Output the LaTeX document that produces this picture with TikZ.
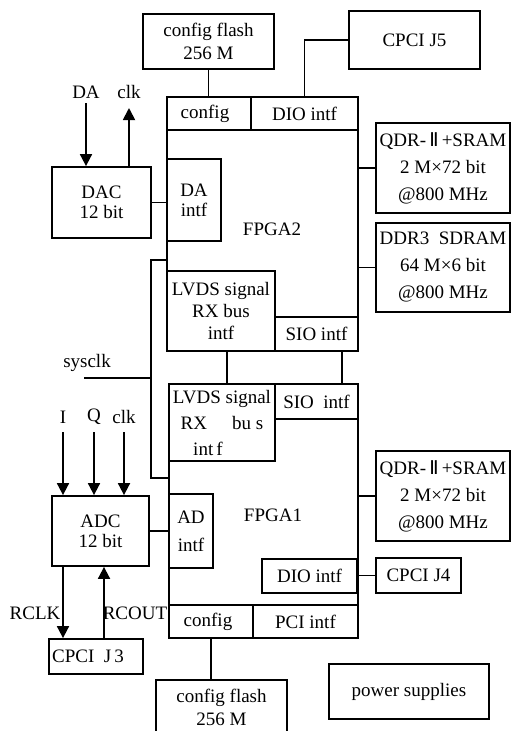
\documentclass[tikz,border=0pt]{standalone}
\usepackage{fontspec}
\setmainfont{Liberation Serif}
\newfontfamily\romfont{DejaVu Sans}
\usetikzlibrary{positioning,arrows.meta}

\begin{document}
\begin{tikzpicture}[
        x=1pt, y=-1pt,
        box/.style={draw, line width=1.8pt, inner sep=0pt, align=center, font=\fontsize{19}{23}\selectfont},
        chip/.style={draw, line width=1.8pt, inner sep=0pt},
        lbl/.style={inner sep=0pt, font=\fontsize{19}{23}\selectfont},
        wire/.style={line width=1.8pt},
        sig/.style={-{Triangle[length=12pt,width=12pt]}, line width=1.8pt}
    ]
    \useasboundingbox (0,0) rectangle (511,731);

    % FPGA2 and its interfaces
    \node[chip, minimum width=191pt, minimum height=254pt] (fpga2) at (262.5, 224) {};
    \node[lbl] (fpga2lbl) at (272, 229) {FPGA2};
    \node[box, minimum width=84pt, minimum height=33pt] (cfg2) at (209, 113.5) {\mbox{config\hspace{8pt}}};
    \node[box, minimum width=107pt, minimum height=33pt] (dio2) at (304.5, 113.5) {DIO intf};
    \node[box, minimum width=54pt, minimum height=82pt, font=\fontsize{19}{20}\selectfont] (daif) at (194, 200) {DA\\intf};
    \node[box, minimum width=108pt, minimum height=80pt, font=\fontsize{19}{22}\selectfont] (lvds2) at (221, 311) {LVDS signal\\RX bus\\intf};
    \node[box, minimum width=83pt, minimum height=34pt] (sio2) at (316.5, 334) {SIO intf};

    % FPGA1 and its interfaces
    \node[chip, minimum width=189pt, minimum height=254pt] (fpga1) at (263.5, 511) {};
    \node[lbl] (fpga1lbl) at (273, 515) {FPGA1};
    \node[box, minimum width=106pt, minimum height=77pt, font=\fontsize{19}{26}\selectfont] (lvds1) at (222, 422.5) {LVDS signal\\RX\hspace{25pt}bu s\\\mbox{int\,f\hspace{28pt}}};
    \node[box, minimum width=83pt, minimum height=35pt] (sio1) at (316.5, 401.5) {SIO\ \ intf};
    \node[box, minimum width=44pt, minimum height=74pt, font=\fontsize{19}{28}\selectfont] (adif) at (191, 531) {AD\\intf};
    \node[box, minimum width=95pt, minimum height=34pt] (dio1) at (309.5, 576) {DIO intf};
    \node[box, minimum width=84pt, minimum height=33pt] (cfg1) at (211, 621.5) {\mbox{config\hspace{6pt}}};
    \node[box, minimum width=105pt, minimum height=33pt] (pci1) at (305.5, 621.5) {PCI intf};

    % outside parts
    \node[box, minimum width=131pt, minimum height=55pt] (flash2) at (208.5, 41.5) {config flash\\256 M};
    \node[box, minimum width=131pt, minimum height=58pt] (j5) at (414.5, 40) {CPCI J5};
    \node[box, minimum width=99pt, minimum height=71pt, font=\fontsize{19}{20}\selectfont] (dac) at (101.5, 202.5) {DAC\\12 bit};
    \node[box, minimum width=134pt, minimum height=90pt, font=\fontsize{19}{27}\selectfont] (qdr2) at (443, 168) {QDR-\,{\romfont Ⅱ}\,+SRAM\\2 M×72 bit\\@800 MHz};
    \node[box, minimum width=134pt, minimum height=89pt, font=\fontsize{19}{27}\selectfont] (ddr3) at (443, 267.5) {DDR3\ \ SDRAM\\64 M×6 bit\\@800 MHz};
    \node[box, minimum width=134pt, minimum height=90pt, font=\fontsize{19}{27}\selectfont] (qdr1) at (443, 496) {QDR-\,{\romfont Ⅱ}\,+SRAM\\2 M×72 bit\\@800 MHz};
    \node[box, minimum width=85pt, minimum height=35pt] (j4) at (418.5, 575.5) {CPCI J4};
    \node[box, minimum width=97pt, minimum height=70pt, font=\fontsize{19}{20}\selectfont] (adc) at (100.5, 531) {ADC\\12 bit};
    \node[box, minimum width=94pt, minimum height=35pt] (j3) at (96, 656.5) {\mbox{CPCI\ \ J\,3\hspace{16pt}}};
    \node[box, minimum width=131pt, minimum height=55pt] (flash1) at (221.5, 707.5) {config flash\\256 M};
    \node[box, minimum width=160pt, minimum height=55pt] (power) at (409, 691.5) {power supplies};

    % signal names
    \node[lbl] (dalbl) at (86, 92) {DA};
    \node[lbl] (clkalbl) at (129, 92) {clk};
    \node[lbl] (sysclklbl) at (87, 363) {sysclk};
    \node[lbl] (ilbl) at (63, 417) {I};
    \node[lbl] (qlbl) at (94, 417) {Q};
    \node[lbl] (clkblbl) at (124, 417) {clk};
    \node[lbl] (rclklbl) at (35, 613) {RCLK};
    \node[lbl] (rcoutlbl) at (135, 613) {RCOUT};

    % connections
    \draw[wire] (flash2.south) -- (flash2.south |- fpga2.north);
    \draw[wire] (j5.west) -| (dio2.north);
    \draw[sig] ([yshift=-11pt]dalbl.center) -- (dalbl |- dac.north);
    \draw[sig] (clkalbl |- dac.north) -- ([yshift=-16pt]clkalbl.center);
    \draw[wire] (dac.east) -- (dac.east -| daif.west);
    \draw[wire] (qdr2.west) -- (qdr2.west -| fpga2.east);
    \draw[wire] (ddr3.west) -- (ddr3.west -| fpga2.east);
    \draw[wire] ([xshift=6pt]lvds2.south) -- ([xshift=6pt]lvds2.south |- lvds1.north);
    \draw[wire] ([xshift=25.5pt]sio2.south) -- ([xshift=25.5pt]sio2.south |- sio1.north);

    % sysclk bus
    \coordinate (busT) at (151, 260);
    \coordinate (busB) at (151, 478);
    \coordinate (clkin) at (84, 378);
    \draw[wire] (busT -| fpga2.west) -- (busT) -- (busB) -- (busB -| fpga1.west);
    \draw[wire] (clkin) -- (clkin -| busT);

    \draw[sig] ([yshift=-15pt]ilbl.center) -- (ilbl |- adc.north);
    \draw[sig] ([yshift=-15pt]qlbl.center) -- (qlbl |- adc.north);
    \draw[sig] ([yshift=-15pt]clkblbl.center) -- (clkblbl |- adc.north);
    \draw[wire] (adc.east) -- (adc.east -| adif.west);
    \draw[wire] (qdr1.west) -- (qdr1.west -| fpga1.east);
    \draw[wire] (j4.west) -- (j4.west -| fpga1.east);
    \draw[sig] ([xshift=-37.5pt]adc.south) -- ([xshift=-37.5pt]adc.south |- j3.north);
    \draw[sig] ([xshift=3.5pt]adc.south |- j3.north) -- ([xshift=3.5pt]adc.south);
    \draw[wire] (cfg1.south) -- (cfg1.south |- flash1.north);
\end{tikzpicture}
\end{document}
